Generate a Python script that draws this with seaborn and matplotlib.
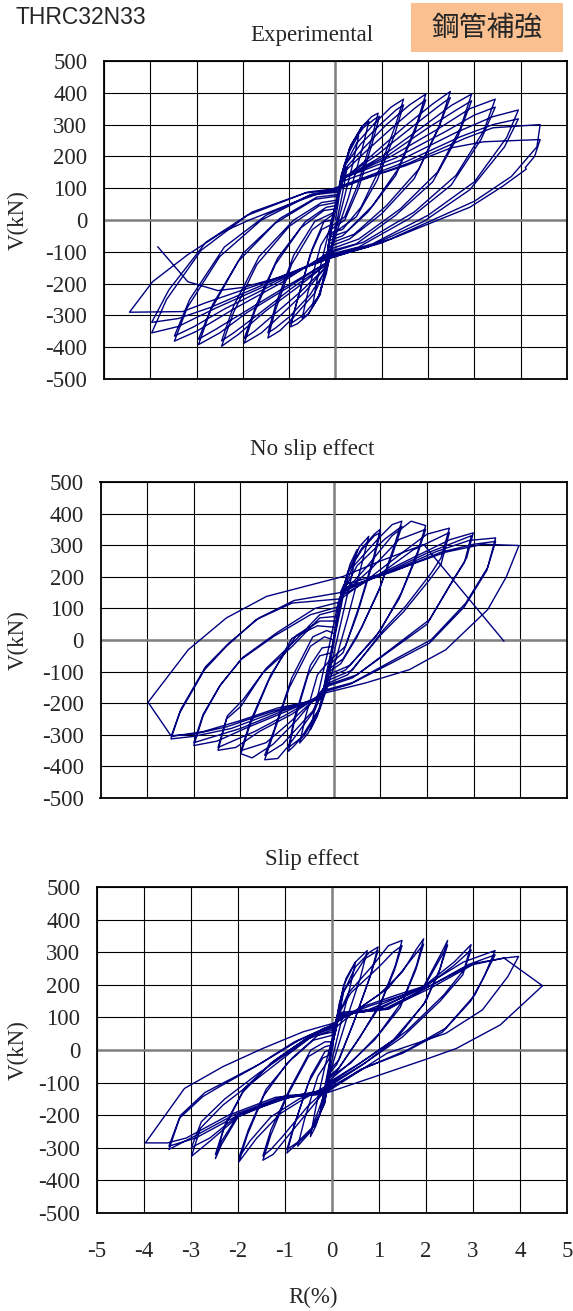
import matplotlib
matplotlib.use("Agg")
import matplotlib.pyplot as plt
import seaborn as sns
import pandas as pd
from matplotlib.patches import Rectangle

# ---------------- data (R in %, V in kN) ----------------
exp_pts = [
    (0, 0),
    (0.08, 75), (0.18, 135), (0.25, 165), (0.18, 105), (0.05, 10), (-0.05, -55), (-0.15, -125), (-0.25, -175),
    (-0.17, -105), (-0.07, -15), (0.0, 40),
    (0.12, 140), (0.3, 215), (0.45, 255), (0.5, 265), (0.38, 180), (0.12, 30), (-0.08, -80), (-0.2, -170),
    (-0.38, -245), (-0.5, -275), (-0.4, -190), (-0.15, -40), (0.02, 60),
    (0.18, 170), (0.35, 240), (0.58, 295), (0.72, 310), (0.58, 225), (0.28, 70), (0.0, -50), (-0.16, -140),
    (-0.35, -235), (-0.58, -295), (-0.72, -308), (-0.6, -230), (-0.32, -80), (-0.11, -30),
    (0.0, 40), (0.12, 130), (0.3, 225), (0.55, 290), (0.78, 325), (0.92, 336), (0.78, 255), (0.48, 110), (0.2, 10),
    (-0.09, -20), (-0.2, -140), (-0.33, -235), (-0.6, -298), (-0.82, -326), (-0.97, -336), (-0.83, -255),
    (-0.55, -110), (-0.3, -30), (-0.1, -15),
    (0.02, 60), (0.15, 150), (0.33, 235), (0.6, 290), (0.85, 318), (0.95, 326), (0.8, 245), (0.5, 100), (0.2, 0),
    (-0.1, -30), (-0.2, -150), (-0.36, -240), (-0.7, -300), (-0.97, -326), (-0.8, -240), (-0.5, -90), (-0.25, -5), (-0.05, 0),
    (0.05, 70), (0.2, 170), (0.45, 240), (0.85, 305), (1.2, 355), (1.47, 380), (1.3, 300), (0.95, 160), (0.55, 40),
    (0.15, -30), (-0.11, -40), (-0.22, -155), (-0.45, -230), (-0.9, -305), (-1.2, -348), (-1.46, -371), (-1.3, -285),
    (-0.95, -140), (-0.5, -30), (-0.03, 20),
    (0.08, 90), (0.22, 175), (0.55, 240), (1.0, 305), (1.3, 345), (1.47, 362), (1.28, 270), (0.9, 125), (0.45, 10),
    (-0.12, -50), (-0.24, -165), (-0.55, -235), (-1.0, -305), (-1.3, -340), (-1.46, -355), (-1.28, -260), (-0.9, -110),
    (-0.45, -5), (-0.02, 25),
    (0.1, 100), (0.2, 160), (0.6, 225), (1.1, 300), (1.6, 362), (1.95, 396), (1.75, 300), (1.35, 160), (0.8, 45),
    (0.25, -35), (-0.13, -55), (-0.22, -150), (-0.65, -225), (-1.15, -295), (-1.6, -355), (-1.97, -387), (-1.75, -290),
    (-1.3, -140), (-0.75, -25), (-0.25, 30), (0.0, 35),
    (0.12, 115), (0.18, 150), (0.65, 215), (1.3, 300), (1.7, 350), (1.95, 378), (1.72, 280), (1.3, 140), (0.7, 25),
    (0.15, -50), (-0.14, -65), (-0.22, -150), (-0.75, -225), (-1.35, -300), (-1.75, -350), (-1.97, -372),
    (-1.72, -270), (-1.25, -120), (-0.65, -5), (-0.2, 40), (0.0, 45),
    (0.14, 125), (0.8, 205), (1.5, 295), (2.1, 365), (2.48, 404), (2.25, 300), (1.8, 160), (1.1, 45), (0.4, -45),
    (-0.15, -75), (-0.2, -140), (-0.85, -215), (-1.5, -285), (-2.1, -360), (-2.46, -397), (-2.2, -290), (-1.7, -140),
    (-1.0, -20), (-0.35, 45), (0.01, 55),
    (0.15, 130), (0.9, 205), (1.7, 298), (2.2, 355), (2.48, 385), (2.2, 280), (1.7, 130), (1.0, 20), (0.3, -60),
    (-0.16, -85), (-0.2, -140), (-0.95, -215), (-1.7, -300), (-2.2, -355), (-2.46, -380), (-2.2, -270), (-1.65, -115),
    (-0.9, 0), (-0.3, 55), (0.02, 62),
    (0.15, 130), (1.0, 200), (1.9, 295), (2.5, 360), (2.94, 396), (2.7, 290), (2.2, 150), (1.4, 35), (0.5, -60),
    (-0.17, -95), (-0.2, -135), (-1.0, -210), (-1.9, -290), (-2.5, -355), (-2.96, -392), (-2.7, -285), (-2.1, -130),
    (-1.3, -10), (-0.45, 65), (0.04, 75),
    (0.15, 132), (1.1, 200), (2.0, 290), (2.6, 345), (2.94, 375), (2.65, 265), (2.1, 120), (1.3, 15), (0.45, -75),
    (-0.17, -100), (-0.2, -135), (-1.1, -212), (-2.0, -292), (-2.6, -345), (-2.96, -375), (-2.65, -265), (-2.0, -105),
    (-1.2, 5), (-0.4, 72), (0.05, 80),
    (0.15, 130), (1.2, 200), (2.2, 285), (2.9, 350), (3.45, 380), (3.2, 280), (2.6, 140), (1.7, 25), (0.6, -70),
    (-0.18, -105), (-1.2, -200), (-2.2, -280), (-3.0, -350), (-3.48, -381), (-3.2, -275), (-2.5, -115),
    (-1.6, 0), (-0.55, 78), (0.06, 88),
    (0.14, 130), (1.3, 195), (2.4, 280), (3.0, 330), (3.45, 355), (3.15, 255), (2.5, 110), (1.6, 5), (0.5, -85),
    (-0.18, -110), (-1.3, -200), (-2.4, -280), (-3.05, -335), (-3.48, -365), (-3.15, -250), (-2.4, -85),
    (-1.5, 15), (-0.5, 82), (0.07, 92),
    (0.12, 120), (1.4, 188), (2.6, 275), (3.4, 325), (3.95, 346), (3.7, 260), (3.0, 120), (2.0, 15), (0.8, -75),
    (-0.19, -115), (-1.4, -200), (-2.6, -278), (-3.4, -335), (-3.97, -355), (-3.65, -250), (-2.9, -95),
    (-1.9, 15), (-0.65, 85), (0.08, 96),
    (0.1, 105), (1.5, 182), (2.7, 262), (3.4, 300), (3.95, 318), (3.65, 230), (2.9, 95), (1.9, -5), (0.7, -85),
    (-0.19, -118), (-1.5, -200), (-2.7, -275), (-3.4, -310), (-3.97, -322), (-3.6, -220), (-2.8, -70),
    (-1.8, 25), (-0.6, 88), (0.09, 100),
    (1.6, 180), (2.8, 257), (3.4, 290), (4.42, 300), (4.35, 230), (3.8, 137), (3.0, 59), (1.0, -72),
    (-0.11, -119), (-1.5, -195), (-2.8, -260), (-3.3, -288), (-4.45, -290), (-3.95, -194), (-3.2, -110),
    (-2.43, -37), (-1.86, 0), (-0.9, 55), (0.09, 106),
    (1.5, 170), (2.5, 227), (3.2, 246), (4.42, 253), (4.3, 200), (4.1, 165), (4.12, 160), (3.6, 105),
    (2.9, 40), (1.2, -60), (-0.15, -122), (-1.2, -180), (-2.0, -212), (-2.54, -222), (-3.19, -194),
    (-3.84, -84),
]

noslip_pts = [
    (0, 0),
    (0.1, 90), (0.25, 175), (0.15, 100), (-0.05, -40), (-0.25, -180), (-0.15, -100), (0.05, 40),
    (0.2, 160), (0.35, 240), (0.5, 286), (0.38, 200), (0.1, 20), (-0.15, -140), (-0.35, -240), (-0.5, -284),
    (-0.38, -200), (-0.1, -20), (0.1, 120),
    (0.3, 210), (0.55, 295), (0.75, 328), (0.6, 240), (0.3, 70), (-0.05, -110), (-0.3, -220), (-0.55, -295),
    (-0.73, -326), (-0.6, -240), (-0.35, -110), (-0.06, -60),
    (0.1, 96), (0.3, 215), (0.6, 290), (0.87, 335), (1.0, 351), (0.85, 260), (0.55, 110), (0.25, -20), (-0.05, -60),
    (-0.12, -110), (-0.3, -215), (-0.6, -295), (-0.85, -335), (-0.97, -352), (-0.85, -260), (-0.55, -110), (-0.3, -50),
    (-0.04, -40),
    (0.12, 110), (0.32, 220), (0.6, 285), (0.87, 330), (1.0, 340), (0.85, 250), (0.5, 80), (0.2, -40), (-0.07, -75),
    (-0.14, -120), (-0.32, -220), (-0.7, -310), (-0.97, -340), (-0.85, -250), (-0.5, -80), (-0.25, -25), (-0.02, -20),
    (0.14, 130), (0.4, 230), (0.95, 320), (1.25, 365), (1.46, 376), (1.3, 300), (1.0, 170), (0.6, 40), (0.2, -60),
    (-0.09, -90), (-0.15, -130), (-0.4, -220), (-1.0, -340), (-1.2, -375), (-1.48, -379), (-1.3, -300), (-0.95, -150),
    (-0.5, -20), (-0.2, 10), (0.0, 0),
    (0.15, 140), (0.5, 235), (1.1, 320), (1.46, 360), (1.28, 280), (0.95, 150), (0.5, 10), (0.15, -75), (-0.1, -100),
    (-0.16, -135), (-0.45, -225), (-1.1, -330), (-1.48, -365), (-1.28, -285), (-0.9, -120), (-0.45, 10), (-0.15, 30),
    (0.02, 20),
    (0.15, 140), (0.7, 230), (1.25, 330), (1.66, 376), (1.97, 362), (1.8, 280), (1.45, 150), (1.0, 30), (0.35, -80),
    (-0.12, -110), (-0.2, -150), (-0.8, -255), (-1.3, -330), (-1.75, -373), (-1.99, -360), (-1.8, -270), (-1.4, -130),
    (-0.9, 5), (-0.35, 45), (0.04, 40),
    (0.15, 140), (0.8, 225), (1.4, 318), (1.97, 350), (1.78, 265), (1.4, 130), (0.9, 10), (0.25, -95), (-0.14, -120),
    (-0.22, -160), (-0.9, -255), (-1.45, -325), (-1.99, -350), (-1.78, -255), (-1.35, -110), (-0.8, 15), (-0.3, 60),
    (0.06, 60),
    (0.15, 130), (0.8, 200), (1.5, 280), (2.0, 335), (2.48, 354), (2.3, 260), (2.09, 212), (1.54, 107), (1.07, 33),
    (0.4, -95), (-0.16, -130), (-0.24, -168), (-0.9, -235), (-1.6, -290), (-2.1, -340), (-2.48, -349), (-2.3, -250),
    (-1.99, -210), (-1.52, -104), (-0.89, -20), (-0.3, 70), (0.07, 75),
    (0.16, 140), (1.0, 210), (1.7, 285), (2.48, 340), (2.3, 240), (2.05, 190), (1.5, 90), (1.0, 15), (0.3, -110),
    (-0.18, -140), (-0.25, -172), (-1.0, -235), (-1.7, -290), (-2.48, -340), (-2.28, -240), (-1.95, -190),
    (-1.45, -90), (-0.85, -5), (-0.3, 80), (0.09, 95),
    (0.17, 150), (1.0, 210), (1.9, 275), (2.5, 318), (2.99, 339), (2.85, 260), (2.56, 191), (2.05, 64), (1.3, -20),
    (0.5, -110), (-0.2, -145), (-0.26, -175), (-1.0, -225), (-1.9, -280), (-2.5, -320), (-3.0, -334), (-2.8, -240),
    (-2.45, -147), (-1.99, -62), (-1.28, 12), (-0.5, 80), (0.1, 105),
    (0.18, 155), (1.1, 212), (2.0, 275), (2.95, 330), (2.8, 245), (2.5, 175), (2.0, 50), (1.2, -35), (0.4, -120),
    (-0.21, -150), (-0.27, -178), (-1.1, -225), (-2.0, -280), (-3.0, -325), (-2.8, -235), (-2.42, -140), (-1.95, -55),
    (-1.2, 25), (-0.4, 100), (0.12, 120),
    (0.2, 160), (1.2, 215), (2.2, 280), (2.9, 315), (3.47, 323), (3.3, 230), (2.83, 117), (2.09, 1), (1.3, -62),
    (0.4, -135), (-0.23, -160), (-0.28, -182), (-1.2, -225), (-2.2, -280), (-3.0, -305), (-3.49, -313), (-3.3, -230),
    (-2.77, -94), (-2.3, -20), (-1.67, 64), (-0.89, 117), (0.13, 130),
    (0.22, 165), (1.3, 218), (2.3, 278), (3.0, 303), (3.47, 312), (3.28, 220), (2.8, 105), (2.05, -10), (1.25, -72),
    (0.35, -140), (-0.24, -165), (-0.29, -185), (-1.3, -225), (-2.3, -275), (-3.0, -298), (-3.48, -303), (-3.28, -220),
    (-2.75, -85), (-2.25, -10), (-1.6, 70), (-0.85, 125), (0.14, 150),
    (0.22, 175), (1.4, 225), (2.4, 278), (3.2, 303), (3.97, 299), (3.7, 200), (3.3, 96), (2.4, -31), (1.62, -94),
    (0.68, -136), (-0.25, -170), (-0.29, -188), (-1.2, -215), (-2.0, -255), (-2.8, -290), (-3.48, -305), (-3.98, -197),
    (-3.12, -31), (-2.3, 70), (-1.44, 138), (0.2, 201), (1.0, 250), (1.93, 302), (3.65, -4),
]

slip_pts = [
    (0, 0),
    (0.1, 100), (0.25, 190), (0.15, 110), (0.0, 10), (-0.1, -90), (-0.25, -190), (-0.15, -110), (0.0, 0),
    (0.15, 140), (0.3, 220), (0.5, 270), (0.38, 190), (0.15, 60), (-0.05, -60), (-0.2, -170), (-0.35, -235),
    (-0.46, -266), (-0.35, -180), (-0.15, -50), (0.05, 60),
    (0.25, 200), (0.5, 270), (0.75, 305), (0.6, 220), (0.3, 90), (0.0, -50), (-0.2, -150), (-0.45, -250),
    (-0.73, -295), (-0.58, -210), (-0.3, -80), (-0.07, -30),
    (0.1, 72), (0.22, 170), (0.5, 255), (0.8, 300), (0.98, 316), (0.82, 230), (0.5, 100), (0.15, -30), (-0.04, -60),
    (-0.15, -160), (-0.35, -230), (-0.65, -275), (-0.96, -316), (-0.8, -230), (-0.5, -100), (-0.2, -25), (-0.05, -15),
    (0.11, 80), (0.25, 180), (0.7, 280), (0.98, 305), (0.8, 220), (0.45, 80), (0.1, -45), (-0.05, -70),
    (-0.16, -165), (-0.4, -235), (-0.75, -285), (-0.96, -305), (-0.78, -220), (-0.45, -80), (-0.15, -5), (-0.04, 0),
    (0.08, 60), (0.14, 110), (0.35, 175), (0.9, 265), (1.2, 320), (1.49, 336), (1.35, 260), (1.05, 150), (0.6, 40),
    (0.15, -55), (-0.06, -80), (-0.12, -120), (-0.4, -170), (-1.0, -275), (-1.25, -320), (-1.47, -338), (-1.3, -260),
    (-0.95, -140), (-0.5, -20), (-0.15, 10), (-0.02, 15),
    (0.09, 70), (0.16, 115), (0.4, 175), (1.0, 255), (1.3, 300), (1.49, 320), (1.33, 245), (1.0, 130), (0.5, 20),
    (0.1, -65), (-0.07, -88), (-0.13, -122), (-0.5, -170), (-1.05, -265), (-1.3, -305), (-1.47, -325), (-1.3, -245),
    (-0.9, -120), (-0.45, 0), (-0.15, 25), (-0.01, 25),
    (0.1, 72), (0.5, 120), (1.0, 170), (1.5, 240), (1.8, 310), (1.95, 341), (1.8, 260), (1.5, 150), (1.0, 50),
    (0.4, -40), (-0.06, -85), (-0.12, -110), (-0.6, -150), (-1.1, -195), (-1.6, -270), (-1.98, -343), (-1.8, -260),
    (-1.45, -140), (-0.95, -40), (-0.4, 30), (0.0, 45),
    (0.1, 85), (0.6, 130), (1.2, 190), (1.7, 280), (1.95, 325), (1.78, 245), (1.45, 130), (0.9, 30), (0.3, -50),
    (-0.07, -95), (-0.13, -118), (-0.7, -150), (-1.3, -205), (-1.75, -280), (-1.98, -330), (-1.78, -245), (-1.4, -120),
    (-0.85, -25), (-0.3, 45), (0.01, 55),
    (0.11, 92), (0.7, 135), (1.4, 170), (1.95, 195), (2.3, 290), (2.46, 336), (2.3, 250), (2.0, 150), (1.4, 40),
    (0.6, -40), (-0.08, -100), (-0.14, -122), (-0.8, -140), (-1.5, -170), (-2.0, -205), (-2.35, -290), (-2.48, -333),
    (-2.3, -240), (-1.9, -130), (-1.3, -40), (-0.6, 30), (0.02, 62),
    (0.12, 98), (0.8, 135), (1.95, 190), (2.3, 280), (2.46, 322), (2.28, 240), (1.95, 140), (1.3, 30), (0.5, -50),
    (-0.09, -105), (-0.15, -125), (-0.9, -145), (-2.0, -200), (-2.35, -280), (-2.48, -320), (-2.28, -230),
    (-1.85, -115), (-1.2, -30), (-0.5, 40), (0.03, 68),
    (0.12, 100), (0.8, 125), (1.95, 195), (2.6, 270), (2.96, 323), (2.81, 246), (2.38, 169), (1.6, 60), (0.7, -40),
    (-0.1, -110), (-0.16, -128), (-1.0, -145), (-2.0, -205), (-2.6, -280), (-2.99, -326), (-2.8, -240), (-2.32, -169),
    (-1.63, -92), (-0.9, -10), (-0.3, 55), (0.04, 72),
    (0.12, 102), (1.0, 130), (1.95, 190), (2.6, 260), (2.96, 307), (2.78, 230), (2.3, 150), (1.5, 40), (0.6, -50),
    (-0.1, -115), (-0.16, -130), (-1.1, -150), (-2.0, -200), (-2.6, -270), (-2.99, -299), (-2.78, -220), (-2.28, -150),
    (-1.55, -70), (-0.8, 5), (-0.2, 65), (0.05, 76),
    (0.12, 105), (1.0, 125), (1.95, 195), (2.8, 270), (3.47, 305), (3.25, 230), (3.04, 169), (2.42, 67), (1.6, 0),
    (0.7, -55), (-0.11, -120), (-0.17, -132), (-1.0, -140), (-2.0, -200), (-2.9, -270), (-3.47, -295), (-3.25, -210),
    (-2.75, -143), (-2.4, -113), (-1.63, -51), (-0.8, 25), (0.06, 80),
    (0.13, 108), (1.1, 125), (2.0, 190), (2.9, 262), (3.47, 292), (3.2, 215), (2.95, 150), (2.35, 55), (1.5, -10),
    (0.6, -60), (-0.11, -125), (-0.17, -134), (-1.1, -145), (-2.1, -200), (-3.0, -270), (-3.47, -305), (-3.22, -200),
    (-2.7, -130), (-2.3, -100), (-1.5, -40), (-0.7, 30), (0.08, 82),
    (0.13, 110), (1.2, 125), (2.0, 190), (3.0, 265), (3.66, 282), (3.97, 287), (3.74, 225), (3.2, 123), (2.42, 51),
    (1.17, -10), (-0.12, -130), (-0.18, -136), (-1.2, -145), (-2.2, -200), (-3.1, -270), (-3.5, -285), (-3.97, -285),
    (-3.14, -118), (-2.32, -51), (-1.47, 5), (-0.61, 56), (0.1, 85),
    (0.14, 115), (1.2, 128), (2.1, 190), (3.0, 262), (3.66, 282), (4.48, 197), (3.58, 77), (2.65, 5), (1.95, -31),
    (-0.12, -132),
]

panel_titles = ["Experimental", "No slip effect", "Slip effect"]
x_ticks = [-5, -4, -3, -2, -1, 0, 1, 2, 3, 4, 5]
y_ticks = [-500, -400, -300, -200, -100, 0, 100, 200, 300, 400, 500]
x_label = "R(%)"
y_label = "V(kN)"
specimen = "THRC32N33"
tag = "鋼管補強"

# ---------------- styling ----------------
sns.set_theme(style="white")
plt.rcParams['font.family'] = ['Liberation Serif', 'DejaVu Serif']
plt.rcParams['axes.unicode_minus'] = False

W, H = 573, 1311
fig = plt.figure(figsize=(W / 100, H / 100), dpi=100)
fig.patch.set_facecolor("white")

# axes boxes in pixels: left, top, right, bottom
boxes = [(104, 61, 567, 379), (100.5, 482, 567, 798), (97, 887, 567, 1213)]
title_y = [36, 450, 859]
FS = 16.5
line_color = "#000080"

for i, (pts, title, (l, t, r, b)) in enumerate(zip([exp_pts, noslip_pts, slip_pts], panel_titles, boxes)):
    ax = fig.add_axes([l / W, 1 - b / H, (r - l) / W, (b - t) / H])
    df = pd.DataFrame(pts, columns=["R", "V"])
    ax.set_axisbelow(True)
    ax.grid(True, color="black", lw=0.8)
    ax.axhline(0, color="#808080", lw=1.8, zorder=1)
    ax.axvline(0, color="#808080", lw=1.8, zorder=1)
    sns.lineplot(data=df, x="R", y="V", sort=False, estimator=None, color=line_color,
                 lw=1.0, ax=ax, zorder=3)
    ax.set_xlim(-5, 5)
    ax.set_ylim(-500, 500)
    ax.set_xticks(x_ticks)
    ax.set_yticks(y_ticks)
    ax.set_yticklabels([str(v) for v in y_ticks], fontsize=FS)
    ax.set_xticklabels([str(v) for v in x_ticks], fontsize=FS)
    ax.tick_params(axis="y", length=0, pad=12)
    ax.tick_params(axis="x", length=0, pad=20, labelbottom=(i == 2))
    ax.set_xlabel("")
    ax.set_ylabel("")
    for s in ax.spines.values():
        s.set_color("black")
        s.set_linewidth(1.3)
    fig.text(312 / W, 1 - title_y[i] / H, title, ha="center", va="center", fontsize=FS)
    fig.text(18 / W, 1 - ((t + b) / 2) / H, y_label, ha="center", va="center",
             rotation=90, fontsize=FS)

fig.text(313 / W, 1 - 1297 / H, x_label, ha="center", va="center", fontsize=FS)

# header texts
fig.text(16 / W, 1 - 17 / H, specimen, ha="left", va="center", fontsize=16.5,
         family=["Liberation Sans", "DejaVu Sans"])
fig.patches.append(Rectangle((411 / W, 1 - 52 / H), 152 / W, 49 / H, transform=fig.transFigure,
                             facecolor="#FAC090", edgecolor="none", zorder=0))
fig.text(487 / W, 1 - 28 / H, tag, ha="center", va="center", fontsize=20,
         family=["Noto Sans CJK JP", "DejaVu Sans"])

fig.savefig("out.png", dpi=100)
